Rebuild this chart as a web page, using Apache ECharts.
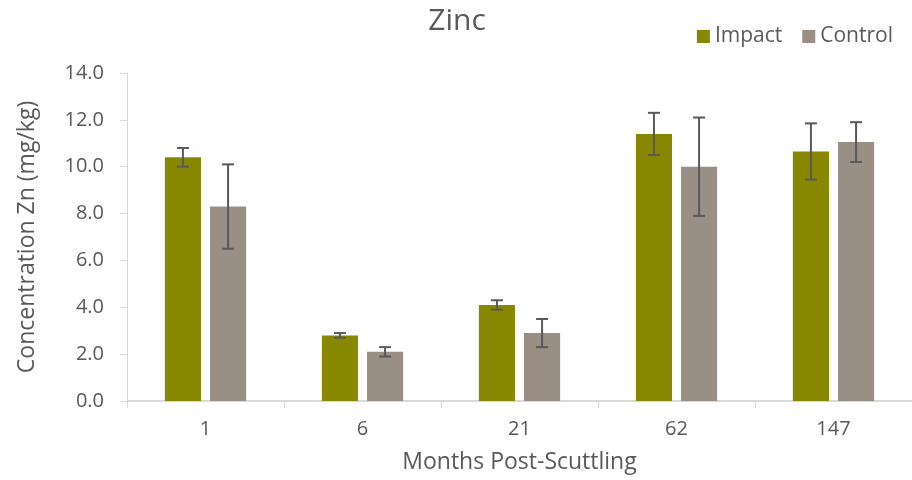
<!DOCTYPE html>
<html>
<head>
<meta charset="utf-8">
<script src="https://cdn.jsdelivr.net/npm/echarts@6/dist/echarts.min.js"></script>
<style>
  html, body { margin: 0; padding: 0; background: #fff; }
  #chart { width: 912px; height: 480px; }
</style>
</head>
<body>
<div id="chart"></div>
<script>
// Zinc concentration by months post-scuttling
const categories = ['1', '6', '21', '62', '147'];
const impactValues = [10.4, 2.8, 4.1, 11.4, 10.65];
const impactErrors = [0.4, 0.1, 0.2, 0.9, 1.2];
const controlValues = [8.3, 2.1, 2.9, 10.0, 11.05];
const controlErrors = [1.8, 0.2, 0.6, 2.1, 0.85];
const yTicks = [0, 2, 4, 6, 8, 10, 12, 14];

const BAR_W = 0.23;   // bar width as a fraction of the category band
const BAR_GAP = 0.25; // gap between bars as a fraction of bar width
const FONT = '"Open Sans", "Noto Sans", sans-serif';
const TEXT = '#595959';

function errorSeries(name, values, errors, side) {
  return {
    type: 'custom',
    name: name + ' error',
    z: 10,
    silent: true,
    data: values.map((v, i) => [i, v - errors[i], v + errors[i]]),
    renderItem: function (params, api) {
      const band = api.size([1, 0])[0];
      const offset = side * band * BAR_W * (1 + BAR_GAP) / 2;
      const lo = api.coord([api.value(0), api.value(1)]);
      const hi = api.coord([api.value(0), api.value(2)]);
      const x = lo[0] + offset;
      const cap = 6;
      const style = { stroke: '#595959', lineWidth: 2 };
      return {
        type: 'group',
        children: [
          { type: 'line', shape: { x1: x, y1: lo[1], x2: x, y2: hi[1] }, style: style },
          { type: 'line', shape: { x1: x - cap, y1: lo[1], x2: x + cap, y2: lo[1] }, style: style },
          { type: 'line', shape: { x1: x - cap, y1: hi[1], x2: x + cap, y2: hi[1] }, style: style }
        ]
      };
    }
  };
}

const chart = echarts.init(document.getElementById('chart'));
chart.setOption({
  backgroundColor: '#ffffff',
  animation: false,
  textStyle: { fontFamily: FONT },
  title: {
    text: 'Zinc',
    left: 452,
    textAlign: 'center',
    top: 1,
    textStyle: { fontFamily: FONT, fontSize: 30, fontWeight: 'normal', color: TEXT }
  },
  legend: {
    data: ['Impact', 'Control'],
    right: 14,
    top: 21,
    itemWidth: 13,
    itemHeight: 13,
    itemGap: 20,
    icon: 'rect',
    textStyle: { fontFamily: FONT, fontSize: 21, color: TEXT }
  },
  grid: { left: 127, top: 73, width: 788, bottom: 79, containLabel: false },
  xAxis: {
    type: 'category',
    data: categories,
    name: 'Months Post-Scuttling',
    nameLocation: 'middle',
    nameGap: 50,
    nameTextStyle: { fontFamily: FONT, fontSize: 23, color: TEXT },
    axisLine: { lineStyle: { color: '#D9D9D9', width: 2 } },
    axisTick: { show: true, alignWithLabel: false, length: 7, lineStyle: { color: '#D9D9D9', width: 1 } },
    axisLabel: { fontFamily: FONT, fontSize: 20, color: TEXT, margin: 18 },
    splitLine: { show: false }
  },
  yAxis: {
    type: 'value',
    min: yTicks[0],
    max: yTicks[yTicks.length - 1],
    interval: 2,
    name: 'Concentration Zn (mg/kg)',
    nameLocation: 'middle',
    nameGap: 88,
    nameRotate: 90,
    nameTextStyle: { fontFamily: FONT, fontSize: 23, color: TEXT },
    axisLine: { show: true, lineStyle: { color: '#D9D9D9', width: 1 } },
    axisTick: { show: true, length: 7, lineStyle: { color: '#D9D9D9' } },
    axisLabel: {
      fontFamily: FONT, fontSize: 20, color: TEXT, margin: 23,
      formatter: v => v.toFixed(1)
    },
    splitLine: { show: false }
  },
  series: [
    {
      name: 'Impact',
      type: 'bar',
      data: impactValues,
      barWidth: (BAR_W * 100) + '%',
      barGap: (BAR_GAP * 100) + '%',
      itemStyle: { color: '#878700' }
    },
    {
      name: 'Control',
      type: 'bar',
      data: controlValues,
      barWidth: (BAR_W * 100) + '%',
      barGap: (BAR_GAP * 100) + '%',
      itemStyle: { color: '#998F85' }
    },
    errorSeries('Impact', impactValues, impactErrors, -1),
    errorSeries('Control', controlValues, controlErrors, 1)
  ]
});
</script>
</body>
</html>
